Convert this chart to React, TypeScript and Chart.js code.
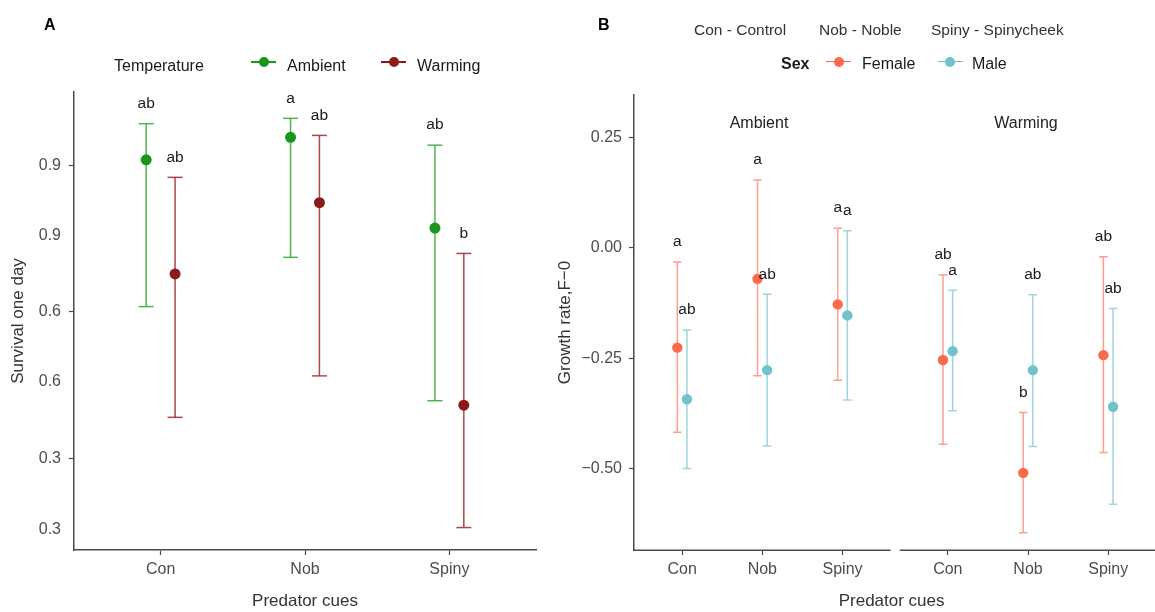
import React, { useEffect, useRef } from "react";
import { Chart, registerables } from "chart.js";

Chart.register(...registerables);

const FONT = '"Liberation Sans", Arial, Helvetica, sans-serif';

// ---------- shared ----------
const predatorCues = ["Con", "Nob", "Spiny"];
const cueCaptions = ["Con - Control", "Nob - Noble", "Spiny - Spinycheek"];

// ---------- Panel A : survival one day ----------
const temperatureGroups = ["Ambient", "Warming"];
const survivalAmbientMean = [0.912, 0.958, 0.772];
const survivalAmbientLower = [0.611, 0.712, 0.418];
const survivalAmbientUpper = [0.986, 0.997, 0.942];
const survivalWarmingMean = [0.678, 0.824, 0.409];
const survivalWarmingLower = [0.384, 0.469, 0.158];
const survivalWarmingUpper = [0.876, 0.962, 0.72];
const survivalAmbientLetters = ["ab", "a", "ab"];
const survivalWarmingLetters = ["ab", "ab", "b"];
const survivalTickValues = [0.153, 0.3, 0.458, 0.6, 0.757, 0.9];
const survivalTickLabels = ["0.3", "0.3", "0.6", "0.6", "0.9", "0.9"];
const survivalTickMarked = [false, true, false, true, false, true];

// ---------- Panel B : growth rate ----------
const facetNames = ["Ambient", "Warming"];
const sexGroups = ["Female", "Male"];
const growthFemaleAmbientMean = [-0.226, -0.07, -0.128];
const growthFemaleAmbientLower = [-0.418, -0.29, -0.3];
const growthFemaleAmbientUpper = [-0.032, 0.154, 0.045];
const growthMaleAmbientMean = [-0.343, -0.277, -0.153];
const growthMaleAmbientLower = [-0.5, -0.449, -0.345];
const growthMaleAmbientUpper = [-0.186, -0.105, 0.039];
const growthFemaleWarmingMean = [-0.254, -0.51, -0.243];
const growthFemaleWarmingLower = [-0.445, -0.646, -0.464];
const growthFemaleWarmingUpper = [-0.061, -0.373, -0.02];
const growthMaleWarmingMean = [-0.234, -0.277, -0.36];
const growthMaleWarmingLower = [-0.369, -0.45, -0.581];
const growthMaleWarmingUpper = [-0.096, -0.106, -0.137];
const growthFemaleAmbientLetters = ["a", "a", "a"];
const growthMaleAmbientLetters = ["ab", "ab", "a"];
const growthFemaleWarmingLetters = ["ab", "b", "ab"];
const growthMaleWarmingLetters = ["a", "ab", "ab"];
const growthTickValues = [-0.5, -0.25, 0, 0.25];
const growthTickLabels = ["\u22120.50", "\u22120.25", "0.00", "0.25"];

// ---------- styles ----------
const AXIS = "#4a4a4a";
const TICK_TEXT = "#4d4d4d";
const TITLE_TEXT = "#333333";
const GREEN = "#1c951c";
const GREEN_BAR = "rgba(40,160,40,0.8)";
const RED = "#8b1a1a";
const RED_BAR = "rgba(160,40,40,0.85)";
const FEMALE = "#fb6a4a";
const FEMALE_BAR = "#fd9f8e";
const MALE = "#72c2cc";
const MALE_BAR = "#9dd5dc";

type Pt = { x: number; y: number | null };

function pointData(xs: number[], ys: number[]): Pt[] {
  return xs.map((x, i) => ({ x, y: ys[i] }));
}
function errorData(xs: number[], lo: number[], hi: number[]): Pt[] {
  const out: Pt[] = [];
  xs.forEach((x, i) => {
    out.push({ x, y: lo[i] }, { x, y: hi[i] }, { x, y: null });
  });
  return out;
}
function pointSet(label: string, data: Pt[], color: string, r: number) {
  return {
    label,
    data,
    backgroundColor: color,
    borderColor: color,
    pointRadius: r,
    pointBorderWidth: 0,
    order: 0,
  };
}
function barSet(label: string, data: Pt[], color: string, cap: number) {
  return {
    label,
    data,
    showLine: true,
    spanGaps: false,
    borderColor: color,
    borderWidth: 1.5,
    backgroundColor: color,
    pointStyle: "line",
    pointRadius: cap,
    pointBorderColor: color,
    pointBorderWidth: 1.5,
    order: 1,
  };
}

type LetterItem = { x: number; y: number; text: string };
function lettersPlugin(items: LetterItem[], font: string, offset: number) {
  return {
    id: "sigLetters",
    afterDatasetsDraw(chart: any) {
      const { ctx, scales } = chart;
      ctx.save();
      ctx.font = font;
      ctx.fillStyle = "#1a1a1a";
      ctx.textAlign = "center";
      ctx.textBaseline = "middle";
      items.forEach((it) => {
        ctx.fillText(
          it.text,
          scales.x.getPixelForValue(it.x),
          scales.y.getPixelForValue(it.y) - offset
        );
      });
      ctx.restore();
    },
  };
}
function letterItems(xs: number[], ups: number[], texts: string[]): LetterItem[] {
  return xs.map((x, i) => ({ x, y: ups[i], text: texts[i] }));
}

// ---------- panel A config ----------
function configA(): any {
  const cats = predatorCues.map((_, i) => i + 1);
  const dodge = 0.1;
  const ambX = cats.map((c) => c - dodge);
  const warmX = cats.map((c) => c + dodge);
  const letters = [
    ...letterItems(ambX, survivalAmbientUpper, survivalAmbientLetters),
    ...letterItems(warmX, survivalWarmingUpper, survivalWarmingLetters),
  ];
  return {
    type: "scatter",
    data: {
      datasets: [
        pointSet(temperatureGroups[0], pointData(ambX, survivalAmbientMean), GREEN, 5.5),
        pointSet(temperatureGroups[1], pointData(warmX, survivalWarmingMean), RED, 5.5),
        barSet(temperatureGroups[0] + " CI", errorData(ambX, survivalAmbientLower, survivalAmbientUpper), GREEN_BAR, 7.5),
        barSet(temperatureGroups[1] + " CI", errorData(warmX, survivalWarmingLower, survivalWarmingUpper), RED_BAR, 7.5),
      ],
    },
    options: {
      animation: false,
      responsive: false,
      events: [],
      layout: { padding: { top: 92, right: 7, left: 0, bottom: 0 } },
      plugins: { legend: { display: false }, tooltip: { enabled: false } },
      scales: {
        x: {
          type: "linear",
          min: 0.4,
          max: 3.6,
          afterBuildTicks: (s: any) => {
            s.ticks = cats.map((v) => ({ value: v }));
          },
          afterFit: (s: any) => {
            s.height = 62;
          },
          ticks: {
            callback: (_v: any, i: number) => predatorCues[i],
            color: TICK_TEXT,
            font: { size: 16 },
            padding: 5,
            maxRotation: 0,
            autoSkip: false,
          },
          grid: { drawOnChartArea: false, drawTicks: true, tickLength: 5, tickColor: AXIS, tickWidth: 1.2 },
          border: { display: true, color: AXIS, width: 1.5 },
          title: { display: true, text: "Predator cues", color: TITLE_TEXT, font: { size: 17 }, padding: { top: 0, bottom: 0 } },
        },
        y: {
          type: "linear",
          min: 0.112,
          max: 1.051,
          afterBuildTicks: (s: any) => {
            s.ticks = survivalTickValues.map((v) => ({ value: v }));
          },
          afterFit: (s: any) => {
            s.width = 74;
          },
          ticks: {
            callback: (_v: any, i: number) => survivalTickLabels[i],
            color: TICK_TEXT,
            font: { size: 16 },
            padding: 8,
            autoSkip: false,
          },
          grid: {
            drawOnChartArea: false,
            drawTicks: true,
            tickLength: 5,
            tickWidth: 1.2,
            tickColor: (ctx: any) => (survivalTickMarked[ctx.index] ? AXIS : "rgba(0,0,0,0)"),
          },
          border: { display: true, color: AXIS, width: 1.5 },
          title: { display: true, text: "Survival one day", color: TITLE_TEXT, font: { size: 17 }, padding: { top: 8, bottom: 0 } },
        },
      },
    },
    plugins: [lettersPlugin(letters, `15.5px ${FONT}`, 20)],
  };
}

// ---------- panel B config ----------
function configB(): any {
  const facetWidth = 3.2;
  const facetGap = 0.113;
  const facetShift = facetWidth + facetGap;
  const ambCats = predatorCues.map((_, i) => i + 1);
  const warmCats = ambCats.map((c) => c + facetShift);
  const dodge = 0.06;
  const fAmbX = ambCats.map((c) => c - dodge);
  const mAmbX = ambCats.map((c) => c + dodge);
  const fWarmX = warmCats.map((c) => c - dodge);
  const mWarmX = warmCats.map((c) => c + dodge);
  const tickVals = [...ambCats, ...warmCats];
  const tickLabels = [...predatorCues, ...predatorCues];
  const facetRanges = [
    [0.4, 0.4 + facetWidth],
    [0.4 + facetShift, 0.4 + facetShift + facetWidth],
  ];
  const letters = [
    ...letterItems(fAmbX, growthFemaleAmbientUpper, growthFemaleAmbientLetters),
    ...letterItems(mAmbX, growthMaleAmbientUpper, growthMaleAmbientLetters),
    ...letterItems(fWarmX, growthFemaleWarmingUpper, growthFemaleWarmingLetters),
    ...letterItems(mWarmX, growthMaleWarmingUpper, growthMaleWarmingLetters),
  ];
  const facetAxisPlugin = {
    id: "facetAxis",
    afterDraw(chart: any) {
      const { ctx, chartArea, scales } = chart;
      ctx.save();
      ctx.strokeStyle = AXIS;
      ctx.lineWidth = 1.5;
      const yy = chartArea.bottom + 0.25;
      facetRanges.forEach(([a, b]) => {
        ctx.beginPath();
        ctx.moveTo(scales.x.getPixelForValue(a), yy);
        ctx.lineTo(Math.min(scales.x.getPixelForValue(b), chart.width), yy);
        ctx.stroke();
      });
      ctx.restore();
    },
  };
  return {
    type: "scatter",
    data: {
      datasets: [
        pointSet(sexGroups[0] + " " + facetNames[0], pointData(fAmbX, growthFemaleAmbientMean), FEMALE, 5.2),
        pointSet(sexGroups[1] + " " + facetNames[0], pointData(mAmbX, growthMaleAmbientMean), MALE, 5.2),
        pointSet(sexGroups[0] + " " + facetNames[1], pointData(fWarmX, growthFemaleWarmingMean), FEMALE, 5.2),
        pointSet(sexGroups[1] + " " + facetNames[1], pointData(mWarmX, growthMaleWarmingMean), MALE, 5.2),
        barSet("F amb CI", errorData(fAmbX, growthFemaleAmbientLower, growthFemaleAmbientUpper), FEMALE_BAR, 4.3),
        barSet("M amb CI", errorData(mAmbX, growthMaleAmbientLower, growthMaleAmbientUpper), MALE_BAR, 4.3),
        barSet("F warm CI", errorData(fWarmX, growthFemaleWarmingLower, growthFemaleWarmingUpper), FEMALE_BAR, 4.3),
        barSet("M warm CI", errorData(mWarmX, growthMaleWarmingLower, growthMaleWarmingUpper), MALE_BAR, 4.3),
      ],
    },
    options: {
      animation: false,
      responsive: false,
      events: [],
      layout: { padding: { top: 95, right: 0, left: 0, bottom: 0 } },
      plugins: { legend: { display: false }, tooltip: { enabled: false } },
      scales: {
        x: {
          type: "linear",
          min: 0.4,
          max: 6.824,
          afterBuildTicks: (s: any) => {
            s.ticks = tickVals.map((v) => ({ value: v }));
          },
          afterFit: (s: any) => {
            s.height = 62;
          },
          ticks: {
            callback: (_v: any, i: number) => tickLabels[i],
            color: TICK_TEXT,
            font: { size: 16 },
            padding: 5,
            maxRotation: 0,
            autoSkip: false,
          },
          grid: { drawOnChartArea: false, drawTicks: true, tickLength: 5, tickColor: AXIS, tickWidth: 1.2 },
          border: { display: false },
          title: { display: true, text: "Predator cues", color: TITLE_TEXT, font: { size: 17 }, padding: { top: 0, bottom: 0 } },
        },
        y: {
          type: "linear",
          min: -0.685,
          max: 0.347,
          afterBuildTicks: (s: any) => {
            s.ticks = growthTickValues.map((v) => ({ value: v }));
          },
          afterFit: (s: any) => {
            s.width = 89;
          },
          ticks: {
            callback: (_v: any, i: number) => growthTickLabels[i],
            color: TICK_TEXT,
            font: { size: 16 },
            padding: 7,
            autoSkip: false,
          },
          grid: { drawOnChartArea: false, drawTicks: true, tickLength: 5, tickColor: AXIS, tickWidth: 1.2 },
          border: { display: true, color: AXIS, width: 1.5 },
          title: { display: true, text: "Growth rate,F\u22120", color: TITLE_TEXT, font: { size: 17 }, padding: { top: 10, bottom: 0 } },
        },
      },
    },
    plugins: [facetAxisPlugin, lettersPlugin(letters, `15.5px ${FONT}`, 20)],
  };
}

// ---------- HTML text helpers ----------
function Txt(props: { x: number; cy: number; size: number; bold?: boolean; color?: string; center?: boolean; children: any }) {
  const { x, cy, size, bold, color, center, children } = props;
  return (
    <div
      style={{
        position: "absolute",
        left: x,
        top: cy - 0.59 * size,
        fontSize: size,
        lineHeight: `${1.2 * size}px`,
        fontWeight: bold ? "bold" : "normal",
        color: color || "#1a1a1a",
        whiteSpace: "nowrap",
        transform: center ? "translateX(-50%)" : undefined,
      }}
    >
      {children}
    </div>
  );
}
function Key(props: { cx: number; cy: number; color: string }) {
  const { cx, cy, color } = props;
  return (
    <>
      <div style={{ position: "absolute", left: cx - 12.5, top: cy - 0.75, width: 25, height: 1.5, background: color }} />
      <div style={{ position: "absolute", left: cx - 5, top: cy - 5, width: 10, height: 10, borderRadius: "50%", background: color }} />
    </>
  );
}

export default function App() {
  const refA = useRef<HTMLCanvasElement>(null);
  const refB = useRef<HTMLCanvasElement>(null);
  useEffect(() => {
    Chart.defaults.font.family = FONT;
    const a = new Chart(refA.current as HTMLCanvasElement, configA());
    const b = new Chart(refB.current as HTMLCanvasElement, configB());
    return () => {
      a.destroy();
      b.destroy();
    };
  }, []);
  return (
    <div
      style={{
        position: "absolute",
        left: 0,
        top: 0,
        width: 1155,
        height: 612,
        background: "#ffffff",
        fontFamily: FONT,
        overflow: "hidden",
      }}
    >
      <canvas ref={refA} width={545} height={612} style={{ position: "absolute", left: 0, top: 0 }} />
      <canvas ref={refB} width={610} height={612} style={{ position: "absolute", left: 545, top: 0 }} />

      {/* Panel A header + legend */}
      <Txt x={44} cy={24} size={16} bold color="#000">A</Txt>
      <Txt x={114} cy={65} size={16}>Temperature</Txt>
      <Key cx={263.5} cy={62} color={GREEN} />
      <Txt x={287} cy={65} size={16}>{temperatureGroups[0]}</Txt>
      <Key cx={393.5} cy={62} color={RED} />
      <Txt x={417} cy={65} size={16}>{temperatureGroups[1]}</Txt>

      {/* Panel B header + legend */}
      <Txt x={598} cy={24} size={16} bold color="#000">B</Txt>
      <Txt x={694} cy={30} size={15.5} color="#333">{cueCaptions[0]}</Txt>
      <Txt x={819} cy={30} size={15.5} color="#333">{cueCaptions[1]}</Txt>
      <Txt x={931} cy={30} size={15.5} color="#333">{cueCaptions[2]}</Txt>
      <Txt x={781} cy={63} size={16} bold>Sex</Txt>
      <Key cx={838.5} cy={61.5} color={FEMALE} />
      <Txt x={862} cy={63} size={16}>{sexGroups[0]}</Txt>
      <Key cx={950} cy={61.5} color={MALE} />
      <Txt x={972} cy={63} size={16}>{sexGroups[1]}</Txt>

      {/* facet strip labels */}
      <Txt x={759} cy={122} size={16} center color="#222">{facetNames[0]}</Txt>
      <Txt x={1026} cy={122} size={16} center color="#222">{facetNames[1]}</Txt>
    </div>
  );
}
